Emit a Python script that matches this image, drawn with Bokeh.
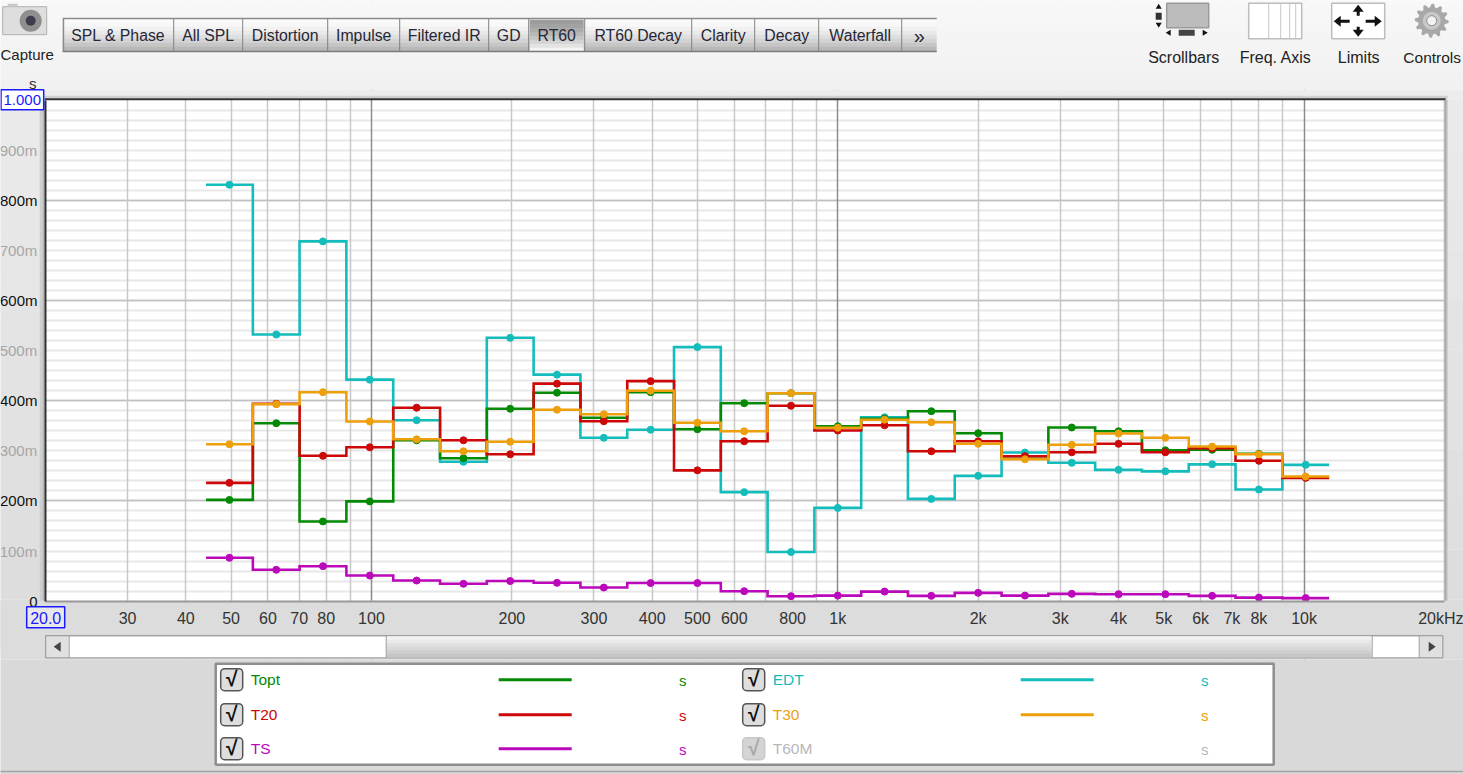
import math
from bokeh.plotting import figure
from bokeh.embed import file_html
from bokeh.resources import INLINE
from bokeh.models import (BoxAnnotation, Label, PolyAnnotation, FixedTicker, Grid, Range1d)

# ---- data (third-octave bands, seconds) ----
freqs = [49.6, 62.5, 78.7, 99.2, 125, 157.5, 198.4, 250, 315, 396.9, 500, 630,
         793.7, 1000, 1260, 1587, 2000, 2520, 3175, 4000, 5040, 6350, 8000, 10079]
topt = [0.202, 0.355, 0.159, 0.199, 0.321, 0.285, 0.384, 0.416, 0.366, 0.417, 0.343, 0.395,
        0.415, 0.349, 0.364, 0.379, 0.335, 0.289, 0.3465, 0.339, 0.301, 0.302, 0.294, 0.247]
t20 = [0.236, 0.394, 0.290, 0.307, 0.386, 0.321, 0.293, 0.434, 0.359, 0.439, 0.261, 0.319,
       0.390, 0.3405, 0.351, 0.299, 0.319, 0.289, 0.297, 0.314, 0.297, 0.305, 0.280, 0.246]
t30 = [0.313, 0.393, 0.417, 0.3585, 0.323, 0.299, 0.318, 0.382, 0.373, 0.420, 0.356, 0.339,
       0.415, 0.346, 0.362, 0.357, 0.314, 0.283, 0.312, 0.3345, 0.326, 0.3085, 0.293, 0.2487]
edt = [0.831, 0.532, 0.718, 0.442, 0.361, 0.278, 0.5255, 0.452, 0.326, 0.342, 0.507, 0.2175,
       0.098, 0.186, 0.367, 0.204, 0.250, 0.2966, 0.276, 0.262, 0.259, 0.273, 0.2227, 0.272]
ts = [0.0864, 0.0625, 0.0697, 0.051, 0.041, 0.0345, 0.040, 0.0365, 0.027, 0.036, 0.036, 0.0198,
      0.0098, 0.011, 0.019, 0.0105, 0.0165, 0.011, 0.0145, 0.0138, 0.0138, 0.0105, 0.007, 0.006]

x_ticks = [30, 40, 50, 60, 70, 80, 100, 200, 300, 400, 500, 600, 800, 1000, 2000,
           3000, 4000, 5000, 6000, 7000, 8000, 10000, 20000]
x_tick_labels = ["30", "40", "50", "60", "70", "80", "100", "200", "300", "400", "500", "600", "800",
                 "1k", "2k", "3k", "4k", "5k", "6k", "7k", "8k", "10k", "20kHz"]
x_grid_minor = [30, 40, 50, 60, 70, 80, 90, 200, 300, 400, 500, 600, 700, 800, 900,
                2000, 3000, 4000, 5000, 6000, 7000, 8000, 9000]
x_grid_major = [100, 1000, 10000]
y_ticks_black = [0, 0.2, 0.4, 0.6, 0.8]
y_labels_black = ["0", "200m", "400m", "600m", "800m"]
y_ticks_grey = [0.1, 0.3, 0.5, 0.7, 0.9]
y_labels_grey = ["100m", "300m", "500m", "700m", "900m"]
y_grid_fine = [i / 50 for i in range(1, 50)]
y_grid_bold = [0.2, 0.4, 0.6, 0.8]
tabs = ["SPL & Phase", "All SPL", "Distortion", "Impulse", "Filtered IR", "GD", "RT60",
        "RT60 Decay", "Clarity", "Decay", "Waterfall", "»"]
tab_edges = [63, 174, 243, 328, 400, 489, 529, 585, 692, 755, 819, 902, 937]

GREEN, RED, ORANGE, CYAN, MAGENTA = "#058a05", "#cc0808", "#eea00c", "#14bcbc", "#bb08bb"
FONT = "Liberation Sans"
W, H = 1463, 774
FL, FT, FR, FB = 45, 100, 1444, 601
DEC = (FR - FL) / 3          # pixels per decade
VPX = 501                    # pixels per second

# the frame fills the canvas, because annotations are clipped to it; the ranges
# are set so that 20 Hz..20 kHz and 0..1 s land on the plot rectangle
x0 = 20 * 10 ** (-FL / DEC)
x1 = 20 * 10 ** ((W - FL) / DEC)
y0 = -(H - 600.6) / VPX
y1 = 600.6 / VPX
p = figure(width=W, height=H, output_backend="svg", toolbar_location=None,
           x_axis_type="log", x_range=Range1d(x0, x1), y_range=Range1d(y0, y1),
           min_border_left=0, min_border_right=0, min_border_top=0,
           min_border_bottom=0, border_fill_color="#dcdcdc",
           background_fill_color="white", outline_line_color=None)
p.grid.visible = False


def X(x):
    return x - 0.8


def Y(y):
    return H - y + 0.8


def box(a0, b0, a1, b1, fill, line=None, lw=1, radius=0, level="annotation"):
    p.add_layout(BoxAnnotation(left=X(a0), right=X(a1), top=Y(b0), bottom=Y(b1),
                               left_units="screen", right_units="screen",
                               top_units="screen", bottom_units="screen",
                               fill_color=fill, fill_alpha=1,
                               line_color=line, line_alpha=1 if line else 0, line_width=lw,
                               border_radius=radius, level=level))


def poly(pts, fill):
    p.add_layout(PolyAnnotation(xs=[X(a) for a, _ in pts], ys=[Y(b) for _, b in pts],
                                xs_units="screen", ys_units="screen", fill_color=fill,
                                fill_alpha=1, line_alpha=0, level="annotation"))


def txt(x, y, s, color="#222", size="15.5px", align="center", style="normal"):
    p.add_layout(Label(x=X(x), y=Y(y), x_units="screen", y_units="screen", text=s,
                       text_font=FONT, text_font_size=size, text_align=align,
                       text_baseline="middle", text_color=color, text_font_style=style,
                       level="overlay"))


def mix(a, b, t):
    return "#%02x%02x%02x" % tuple(round(u + (v - u) * t) for u, v in zip(a, b))


# ---- grids (painted first; the window background then masks their ends) ----
p.add_layout(Grid(dimension=1, ticker=FixedTicker(ticks=y_grid_fine),
                  grid_line_color="#e8e8e8", grid_line_width=2))
p.add_layout(Grid(dimension=1, ticker=FixedTicker(ticks=y_grid_bold),
                  grid_line_color="#c0c0c0", grid_line_width=1.3))
p.add_layout(Grid(dimension=0, ticker=FixedTicker(ticks=x_grid_minor),
                  grid_line_color="#c8c8c8", grid_line_width=1.5))
p.add_layout(Grid(dimension=0, ticker=FixedTicker(ticks=x_grid_major),
                  grid_line_color="#8c8c8c", grid_line_width=1.5))

# ---- window background ----
top_c, low_c = (0xf8, 0xf8, 0xf8), (0xf0, 0xf0, 0xf0)
for i in range(0, 90, 10):
    box(-2, i - 2, W + 2, i + 10, mix(top_c, low_c, i / 90), level="underlay")
box(-2, 90, W + 2, 100, "#ececec", level="underlay")
for i in range(100, 601, 50):
    c = mix((0xea, 0xea, 0xea), (0xdc, 0xdc, 0xdc), (i - 100) / 500)
    box(-2, i, FL, i + 50, c, level="underlay")
    box(FR, i, W + 2, i + 50, c, level="underlay")
box(40, 100, 43, 601, "#cfcfcf", level="underlay")
box(43, 100, FL, 601, "#b4b4b4", level="underlay")
box(FR, 100, 1448, 601, "#c4c4c4", level="underlay")
box(FL, 96, 1448, 99, "#d0d0d0", level="underlay")
box(-2, 601, W + 2, 660, "#dcdcdc", level="underlay")
box(-2, 660, W + 2, H + 2, "#d9d9d9", level="underlay")

# ---- axes ----
xa = p.xaxis[0]
xa.fixed_location = 0
xa.bounds = (20, 20000)
xa.ticker = FixedTicker(ticks=x_ticks)
xa.major_label_overrides = dict(zip(x_ticks, x_tick_labels))
xa.major_tick_line_color = None
xa.minor_tick_line_color = None
xa.major_tick_out = 0
xa.major_tick_in = 0
xa.minor_tick_out = 0
xa.minor_tick_in = 0
xa.axis_line_color = "#9a9a9a"
xa.axis_line_width = 2
xa.major_label_text_font = FONT
xa.major_label_text_font_size = "16px"
xa.major_label_text_color = "#333333"
xa.major_label_standoff = 9

ya = p.yaxis[0]
ya.fixed_location = 20
ya.bounds = (0, 1)
ya.ticker = FixedTicker(ticks=y_ticks_black)
ya.major_label_overrides = dict(zip(y_ticks_black, y_labels_black))
ya.major_tick_line_color = None
ya.minor_tick_line_color = None
ya.major_tick_out = 0
ya.major_tick_in = 0
ya.minor_tick_out = 0
ya.minor_tick_in = 0
ya.axis_line_color = "#333333"
ya.axis_line_width = 2
ya.major_label_text_font = FONT
ya.major_label_text_font_size = "15px"
ya.major_label_text_color = "#111111"
ya.major_label_standoff = 8

for v, s in zip(y_ticks_grey, y_labels_grey):
    p.add_layout(Label(x=X(37.5), y=v, x_units="screen", y_units="data", text=s, text_font=FONT,
                       text_font_size="15px", text_align="right", text_baseline="middle",
                       text_color="#a6a6a6", level="overlay"))
box(FL, 98.5, 1446, 100.5, "#333333")
box(FR + 1, 100, FR + 2.5, 601, "#a8a8a8")


# ---- curves ----
def steps(f, v):
    k = 2 ** (1 / 6)
    xs, ys = [], []
    for c, y in zip(f, v):
        xs += [c / k, c * k]
        ys += [y, y]
    return xs, ys


for vals, col in [(edt, CYAN), (topt, GREEN), (t20, RED), (ts, MAGENTA), (t30, ORANGE)]:
    sx, sy = steps(freqs, vals)
    p.line(sx, sy, line_color=col, line_width=2.6, line_join="miter")
    p.scatter(freqs, vals, size=7, fill_color=col, line_color=col)

# ---- limit boxes ----
txt(33, 84, "s", "#333", "15px")
box(1.3, 90, 44, 110, "white", "#1a1aff", 1.5)
txt(22.5, 100.5, "1.000", "#1a1aff", "15px")
box(27, 607, 65, 628, "#e8e8e8", "#1a1aff", 1.5)
txt(46, 618, "20.0", "#1a1aff", "16px")

# ---- tabs ----
for i in range(8):
    c = mix((0xfa, 0xfa, 0xfa), (0xb8, 0xb8, 0xb8), (i / 7) ** 1.6)
    box(63, 19 + i * 4, 937, 23 + i * 4 + 1, c)
for i in range(8):
    c = mix((0x9c, 0x9c, 0x9c), (0xf4, 0xf4, 0xf4), (i / 7) ** 1.4)
    box(530, 20 + i * 4, 584, 24 + i * 4 + 0.5, c)
box(63, 18, 937, 19.5, "#8a8a8a")
box(63, 51, 937, 52.5, "#7a7a7a")
box(63, 19, 64.5, 52, "#8a8a8a")
for e in tab_edges[1:-1]:
    box(e - 0.5, 19, e + 0.5, 52, "#808080")
for a, b, s in zip(tab_edges[:-1], tab_edges[1:], tabs):
    txt((a + b) / 2, 36, s, "#262636", "15.8px" if s != "»" else "20px")

# ---- top right icons ----
box(3, 7, 47, 35, "#dedede", "#b0b0b0")
box(8, 4, 18, 7, "#c8c8c8")
box(20, 10, 42, 32, "#8f8f8f", radius=11)
box(26, 16, 36, 26, "#3c3c4c", radius=5)
txt(0.8, 55, "Capture", "#222", "15px", "left")

box(1167, 3.5, 1209, 28, "#bcbcbc", "#9a9a9a", 1.5)
box(1156, 13, 1162, 20, "#333333")
poly([(1159, 4), (1156, 9), (1162, 9)], "#111111")
poly([(1159, 28), (1156, 23), (1162, 23)], "#111111")
box(1179, 30, 1195, 36, "#444444")
poly([(1166, 33), (1171, 30), (1171, 36)], "#111111")
poly([(1208, 33), (1203, 30), (1203, 36)], "#111111")
txt(1184, 58, "Scrollbars", "#222", "16px")

box(1249, 3.5, 1302, 39, "white", "#bdbdbd", 1.5)
for lx in (1269, 1281, 1290, 1296):
    box(lx - 0.5, 3.5, lx + 0.5, 39, "#c6c6c6")
txt(1276, 58, "Freq. Axis", "#222", "16px")

box(1332, 3.5, 1385, 39, "white", "#bdbdbd", 1.5)
box(1338, 20, 1350, 23, "#111111")
poly([(1334, 21.5), (1341, 16), (1341, 27)], "#111111")
box(1366, 20, 1378, 23, "#111111")
poly([(1382, 21.5), (1375, 16), (1375, 27)], "#111111")
box(1357, 10, 1360, 16, "#111111")
poly([(1358.5, 5), (1353, 12), (1364, 12)], "#111111")
box(1357, 27, 1360, 33, "#111111")
poly([(1358.5, 37), (1353, 30), (1364, 30)], "#111111")
txt(1359, 58, "Limits", "#222", "16px")

gear = []
for i in range(48):
    ang = 2 * math.pi * i / 48
    r = 17 if (i // 2) % 2 == 0 else 13.5
    gear.append((1432 + r * math.cos(ang), 21 + r * math.sin(ang)))
poly(gear, "#a8a8a8")
box(1423, 12, 1441, 30, "#c8c8c8", radius=9)
box(1427, 16, 1437, 26, "#f2f2f2", "#8a8a8a", 1, radius=5)
txt(1432.5, 58, "Controls", "#222", "15.5px")

# ---- scrollbar ----
box(46, 636, 1443, 658, "#f0f0f0", "#a0a0a0", 1.5)
for i in range(6):
    c = mix((0xf2, 0xf2, 0xf2), (0xc6, 0xc6, 0xc6), i / 5)
    box(387, 636.5 + i * 3.5, 1372, 640.5 + i * 3.5, c)
box(69, 637, 386, 657.5, "white")
box(1372, 637, 1419, 657.5, "white")
box(47, 637, 69, 657.5, "#e0e0e0")
box(1420, 637, 1442.5, 657.5, "#e0e0e0")
box(386, 636, 387, 658, "#a0a0a0")
box(1372, 636, 1373, 658, "#a0a0a0")
box(69, 636, 70, 658, "#a0a0a0")
box(1419, 636, 1420, 658, "#a0a0a0")
poly([(54, 647), (61, 642), (61, 652)], "#444444")
poly([(1436, 647), (1429, 642), (1429, 652)], "#444444")

# ---- legend ----
box(-2, 771, W + 2, 772.5, "#a4a4a4")
box(216, 664, 1274, 765, "white", "#8e8e8e", 2.5)
rows = [680, 715, 749]
left_items = [("Topt", GREEN, True), ("T20", RED, True), ("TS", MAGENTA, True)]
right_items = [("EDT", CYAN, True), ("T30", ORANGE, True), ("T60M", "#b8b8b8", False)]
for (bx, tx, lx0, lx1, sxp), items in [((232, 251, 499, 572, 683), left_items),
                                       ((754, 773, 1021, 1094, 1205), right_items)]:
    for ry, (name, col, on) in zip(rows, items):
        box(bx - 11, ry - 11, bx + 11, ry + 11, "#dedede" if on else "#d4d4d4",
            "#555555" if on else "#c8c8c8", 1.5, radius=4)
        txt(bx, ry - 1, "√", "#111111" if on else "#a8a8a8", "21px", style="bold")
        txt(tx, ry, name, col, "15.5px", "left")
        if on:
            box(lx0, ry - 1.5, lx1, ry + 1.5, col)
        txt(sxp, ry + 1, "s", col, "15px")

open("out.html", "w").write(file_html(p, INLINE))
